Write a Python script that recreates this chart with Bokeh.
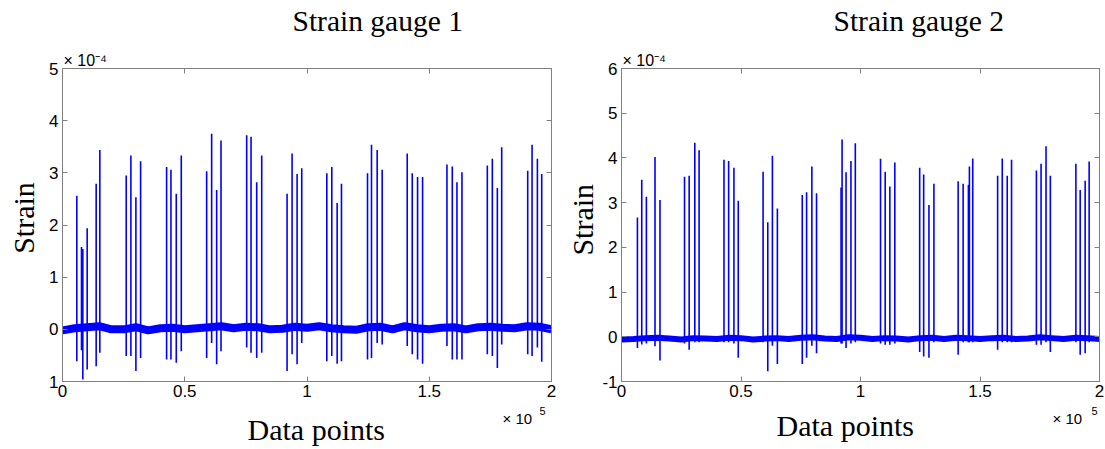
import numpy as np
from bokeh.plotting import figure
from bokeh.layouts import row, column
from bokeh.models import Label, LinearAxis, FixedTicker, NumeralTickFormatter, Range1d, Title
from bokeh.embed import file_html
from bokeh.resources import INLINE

# ---------------- data (x in units of 1e5 data points, strain in units of 1e-4) -------------
titles = ["Strain gauge 1", "Strain gauge 2"]
x_label = "Data points"
y_label = "Strain"
y_mult = "\u00d7 10\u207b\u2074"
x_mult = "\u00d7 10"
x_mult_exp = "5"
x_ticks = [0, 0.5, 1, 1.5, 2]
y_ticks_1 = [-1, 0, 1, 2, 3, 4, 5]
y_ticks_2 = [-1, 0, 1, 2, 3, 4, 5, 6]

# gauge 1 spikes
g1_pos = [0.0586, 0.0777, 0.0831, 0.1009, 0.1377, 0.1527,
          0.2606, 0.2797, 0.3002, 0.3194,
          0.4258, 0.4435, 0.4653, 0.4858,
          0.5896, 0.6100, 0.6305, 0.6483,
          0.7533, 0.7711, 0.7943, 0.8148,
          0.9185, 0.9390, 0.9595, 0.9785,
          1.0810, 1.1014, 1.1233, 1.1410,
          1.2475, 1.2638, 1.2870, 1.3075,
          1.4099, 1.4304, 1.4522, 1.4727,
          1.5724, 1.5942, 1.6133, 1.6338,
          1.7375, 1.7580, 1.7785, 1.7963,
          1.9027, 1.9205, 1.9423, 1.9600]
g1_peak = [2.56, 1.58, 1.54, 1.94, 2.79, 3.44,
           2.95, 3.33, 2.53, 3.22,
           3.11, 3.06, 2.60, 3.33,
           3.03, 3.75, 2.67, 3.62,
           3.72, 3.69, 2.82, 3.33,
           2.60, 3.37, 2.98, 3.09,
           2.99, 3.11, 2.42, 2.79,
           2.99, 3.54, 3.44, 3.06,
           3.37, 2.99, 2.92, 2.92,
           3.16, 3.12, 2.82, 3.01,
           3.14, 3.27, 2.71, 3.49,
           3.04, 3.54, 3.27, 2.98]
g1_trough = [-0.61, -0.40, -0.96, -0.77, -0.71, -0.45,
             -0.51, -0.51, -0.80, -0.55,
             -0.58, -0.58, -0.64, -0.42,
             -0.55, -0.26, -0.67, -0.42,
             -0.35, -0.45, -0.55, -0.45,
             -0.80, -0.48, -0.67, -0.26,
             -0.61, -0.51, -0.66, -0.61,
             -0.58, -0.55, -0.26, -0.29,
             -0.32, -0.48, -0.58, -0.66,
             -0.32, -0.58, -0.58, -0.58,
             -0.48, -0.51, -0.74, -0.29,
             -0.48, -0.51, -0.35, -0.62]
# gauge 1 baseline (read every 0.05e5)
g1_base_pos = [0.00, 0.05, 0.10, 0.15, 0.20, 0.25, 0.30, 0.35, 0.40, 0.45,
               0.50, 0.55, 0.60, 0.65, 0.70, 0.75, 0.80, 0.85, 0.90, 0.95,
               1.00, 1.05, 1.10, 1.15, 1.20, 1.25, 1.30, 1.35, 1.40, 1.45,
               1.50, 1.55, 1.60, 1.65, 1.70, 1.75, 1.80, 1.85, 1.90, 1.95, 2.00]
g1_base = [-0.02, 0.02, 0.04, 0.06, 0.00, 0.00, 0.04, -0.02, 0.02, 0.03,
           0.00, 0.02, 0.04, 0.06, 0.02, 0.05, 0.04, 0.00, 0.01, 0.05,
           0.03, 0.06, 0.02, 0.00, -0.01, 0.04, 0.05, 0.00, 0.06, 0.02,
           0.00, 0.03, 0.04, 0.00, 0.04, 0.05, 0.03, 0.02, 0.06, 0.05, 0.00]

# gauge 2 spikes
g2_pos = [0.0666, 0.0847, 0.1041, 0.1402, 0.1610,
          0.2637, 0.2831, 0.3067, 0.3247,
          0.4288, 0.4483, 0.4704, 0.4885,
          0.5924, 0.6120, 0.6314, 0.6522,
          0.7563, 0.7744, 0.7965, 0.8160,
          0.9187, 0.9229, 0.9396, 0.9600, 0.9783,
          1.0838, 1.1033, 1.1228, 1.1436,
          1.2476, 1.2643, 1.2864, 1.3072,
          1.4086, 1.4294, 1.4515, 1.4557, 1.4696,
          1.5737, 1.5931, 1.6139, 1.6320,
          1.7360, 1.7555, 1.7763, 1.7943,
          1.9012, 1.9192, 1.9400, 1.9567]
g2_peak = [2.67, 3.51, 3.13, 4.02, 3.06,
           3.58, 3.60, 4.34, 4.17,
           3.96, 3.93, 3.78, 3.04,
           3.69, 2.56, 4.05, 2.87,
           3.17, 3.23, 3.81, 3.21,
           3.34, 4.41, 3.68, 3.93, 4.33,
           3.98, 3.69, 3.36, 3.90,
           3.78, 3.63, 2.95, 3.42,
           3.48, 3.42, 3.40, 3.81, 3.99,
           3.60, 3.99, 3.60, 3.96,
           3.72, 3.87, 4.26, 3.60,
           3.87, 3.28, 3.49, 3.92]
g2_trough = [-0.25, -0.17, -0.15, -0.21, -0.53,
             -0.15, -0.29, -0.12, -0.12,
             -0.12, -0.12, -0.15, -0.47,
             -0.12, -0.77, -0.20, -0.61,
             -0.61, -0.47, -0.20, -0.37,
             -0.15, -0.15, -0.25, -0.15, -0.12,
             -0.15, -0.18, -0.18, -0.15,
             -0.34, -0.44, -0.47, -0.12,
             -0.40, -0.12, -0.12, -0.12, -0.12,
             -0.29, -0.12, -0.12, -0.12,
             -0.18, -0.18, -0.12, -0.34,
             -0.12, -0.40, -0.37, -0.12]
g2_base_pos = g1_base_pos
g2_base = [-0.06, -0.05, -0.03, -0.02, -0.04, -0.06, -0.03, -0.04, -0.05, -0.02,
           -0.03, -0.06, -0.04, -0.03, -0.05, -0.02, -0.01, -0.04, -0.05, -0.01,
           -0.02, -0.05, -0.03, -0.04, -0.06, -0.03, -0.02, -0.05, -0.02, -0.03,
           -0.05, -0.03, -0.02, -0.05, -0.04, -0.01, -0.03, -0.05, -0.02, -0.03, -0.05]

BLUE = "#0000ff"
GREY = "#808080"
SANS = "Liberation Sans"
SERIF = "Liberation Serif"

W, H = 1105, 449
TOP_H = 44          # canvas rows 0..44 (titles)
BOT_Y = 404         # canvas row where the bottom strip starts
MID_H = BOT_Y - TOP_H
BOT_H = H - BOT_Y
K = 0.35            # baseline shift of the label anchor, in em


def strip(width, height):
    """A borderless figure whose frame is the whole strip: 1 data unit = 1 pixel."""
    s = figure(width=width, height=height, output_backend="svg", toolbar_location=None,
               x_range=Range1d(0, width), y_range=Range1d(0, height),
               x_axis_type=None, y_axis_type=None, min_border=0)
    s.outline_line_color = None
    s.grid.visible = False
    s.background_fill_color = "white"
    s.border_fill_color = "white"
    return s


def lab(fig, text, x, base_y, y0, font, size, align="left"):
    """Horizontal text whose baseline sits on canvas row base_y (strip bottom at canvas row y0)."""
    fig.add_layout(Label(x=x, y=y0 - (base_y - K * size), text=text, text_font=font,
                         text_font_size=f"{size}px", text_align=align,
                         text_baseline="alphabetic", text_color="black"))


def vlab(fig, text, base_x, cy, y0, font, size):
    """Vertical text (reading upwards) whose baseline sits on column base_x of the strip."""
    fig.add_layout(Label(x=base_x - K * size, y=y0 - cy, text=text, text_font=font,
                         text_font_size=f"{size}px", text_align="center",
                         text_baseline="alphabetic", angle=np.pi / 2, text_color="black"))


def make_panel(width, border_left, border_right, y_ticks, ylab_over, pos, peak, trough,
               base_pos, base, base_w):
    p = figure(width=width, height=MID_H, output_backend="svg", toolbar_location=None,
               x_range=Range1d(0, 2), y_range=Range1d(y_ticks[0], y_ticks[-1]),
               min_border_left=border_left, min_border_right=border_right,
               min_border_top=24, min_border_bottom=23)
    p.background_fill_color = "white"
    p.border_fill_color = "white"
    p.outline_line_color = GREY
    p.grid.visible = False

    p.line(base_pos, base, line_color=BLUE, line_width=base_w)
    p.segment(x0=pos, y0=trough, x1=pos, y1=peak, line_color=BLUE, line_width=1.6)

    for ax in (p.xaxis[0], p.yaxis[0]):
        ax.major_tick_in = 5
        ax.major_tick_out = 0
        ax.minor_tick_line_color = None
        ax.axis_line_color = GREY
        ax.major_tick_line_color = GREY
        ax.major_label_text_font = SANS
        ax.major_label_text_font_size = "17px"
        ax.major_label_text_color = "black"
    p.xaxis[0].ticker = FixedTicker(ticks=x_ticks)
    p.xaxis[0].formatter = NumeralTickFormatter(format="0.[0]")
    p.xaxis[0].major_label_standoff = 3
    p.yaxis[0].ticker = FixedTicker(ticks=y_ticks)
    p.yaxis[0].formatter = NumeralTickFormatter(format="0")
    p.yaxis[0].major_label_standoff = 4
    if ylab_over:
        p.yaxis[0].major_label_overrides = ylab_over

    # tick marks on the top and right edges of the box, without labels
    for tks, side in ((x_ticks, "above"), (y_ticks, "right")):
        ax = LinearAxis(ticker=FixedTicker(ticks=tks), major_label_text_color=None,
                        major_label_standoff=0, major_tick_in=5, major_tick_out=0,
                        minor_tick_line_color=None, axis_line_color=GREY,
                        major_tick_line_color=GREY)
        p.add_layout(ax, side)

    # y multiplier just above the top-left corner of the box
    p.add_layout(Title(text=y_mult, align="left", offset=1, standoff=0,
                       vertical_align="bottom", text_font=SANS, text_font_size="16px",
                       text_font_style="normal", text_color="black"), "above")
    return p


# top strip: titles
top = strip(W, TOP_H)
lab(top, titles[0], 292, 31, TOP_H, SERIF, 29.5)
lab(top, titles[1], 833, 31, TOP_H, SERIF, 29.5)

# middle row: y-label strips and the two panels
left1 = strip(42, MID_H)
vlab(left1, y_label, 33, 216, BOT_Y, SERIF, 30)
p1 = make_panel(516, 20, 7, y_ticks_1, {-1: "1"}, g1_pos, g1_peak, g1_trough,
                g1_base_pos, g1_base, 8)
left2 = strip(41, MID_H)
vlab(left2, y_label, 34, 218, BOT_Y, SERIF, 30)
p2 = make_panel(506, 20, 6, y_ticks_2, None, g2_pos, g2_peak, g2_trough,
                g2_base_pos, g2_base, 6)

# bottom strip: x labels and x multipliers
bot = strip(W, BOT_H)
lab(bot, x_label, 247, 439, H, SERIF, 30)
lab(bot, x_label, 776, 435, H, SERIF, 30)
lab(bot, x_mult, 502, 423, H, SANS, 15)
lab(bot, x_mult_exp, 539, 414, H, SANS, 11)
lab(bot, x_mult, 1052, 423, H, SANS, 15)
lab(bot, x_mult_exp, 1091, 414, H, SANS, 11)

layout = column(top, row(left1, p1, left2, p2, spacing=0), bot, spacing=0)
open("out.html", "w").write(file_html(layout, INLINE))
